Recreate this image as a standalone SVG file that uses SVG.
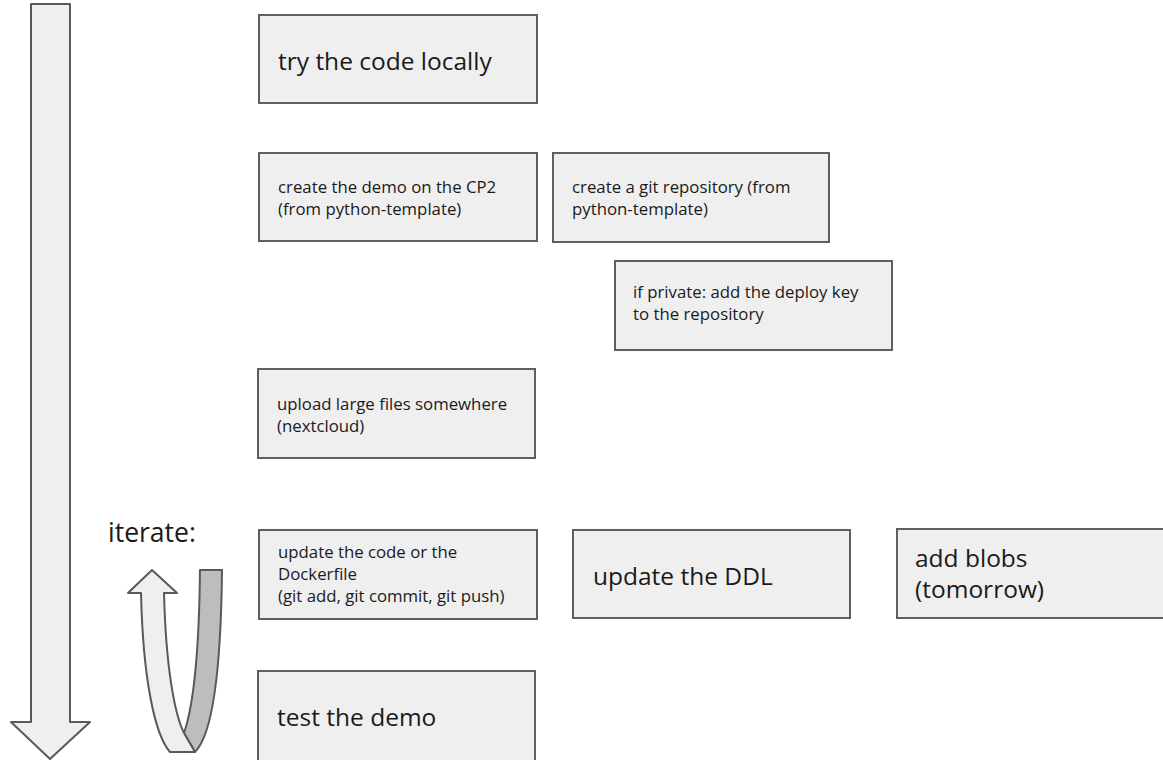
<svg xmlns="http://www.w3.org/2000/svg" width="1163" height="760" viewBox="0 0 1163 760">
<style>
.box{fill:#efefef;stroke:#5f5f5f;stroke-width:2}
.shape{stroke:#595959;stroke-width:2;stroke-linejoin:round}
text{font-family:"Open Sans","Noto Sans",sans-serif;fill:#1a1a1a}
.big{font-size:24.5px}
.sm{font-size:16.8px}
.it{font-size:26.5px}
</style>
<rect width="1163" height="760" fill="#ffffff"/>
<g id="connectors">
<path id="timeline-arrow" class="shape" fill="#efefef" d="M31,4 L70,4 L70,722 L90,722 L50,759 L11,722 L31,722 Z"/>
<g id="iterate-arrow">
<path class="shape" fill="#bdbdbd" d="M200,570 L222,570 C221,670 212,735 195,752 L184,733 C192,710 199,660 200,570 Z"/>
<path class="shape" fill="#efefef" d="M152,570 L177,593 L164,593 C166,670 175,715 184,733 L195,752 L170,752 C155,735 143,680 141,593 L128,593 Z"/>
</g>
</g>
<g id="label-iterate"><text class="it" x="108" y="542">iterate:</text></g>
<g id="n1"><rect class="box" x="259" y="15" width="278" height="88"/><text class="big" x="278" y="70">try the code locally</text></g>
<g id="n2"><rect class="box" x="259" y="153" width="278" height="88"/><text class="sm" x="278" y="193">create the demo on the CP2</text><text class="sm" x="278" y="215">(from python-template)</text></g>
<g id="n3"><rect class="box" x="553" y="153" width="276" height="89"/><text class="sm" x="572" y="193">create a git repository (from</text><text class="sm" x="572" y="215">python-template)</text></g>
<g id="n4"><rect class="box" x="615" y="261" width="277" height="89"/><text class="sm" x="633" y="298">if private: add the deploy key</text><text class="sm" x="633" y="320">to the repository</text></g>
<g id="n5"><rect class="box" x="258" y="369" width="277" height="89"/><text class="sm" x="277" y="410">upload large files somewhere</text><text class="sm" x="277" y="432">(nextcloud)</text></g>
<g id="n6"><rect class="box" x="259" y="530" width="278" height="89"/><text class="sm" x="278" y="558">update the code or the</text><text class="sm" x="278" y="580">Dockerfile</text><text class="sm" x="278" y="602">(git add, git commit, git push)</text></g>
<g id="n7"><rect class="box" x="573" y="530" width="277" height="88"/><text class="big" x="593" y="585">update the DDL</text></g>
<g id="n8"><rect class="box" x="897" y="529" width="278" height="89"/><text class="big" x="915" y="567">add blobs</text><text class="big" x="915" y="598">(tomorrow)</text></g>
<g id="n9"><rect class="box" x="258" y="671" width="277" height="100"/><text class="big" x="277" y="726">test the demo</text></g>
</svg>
